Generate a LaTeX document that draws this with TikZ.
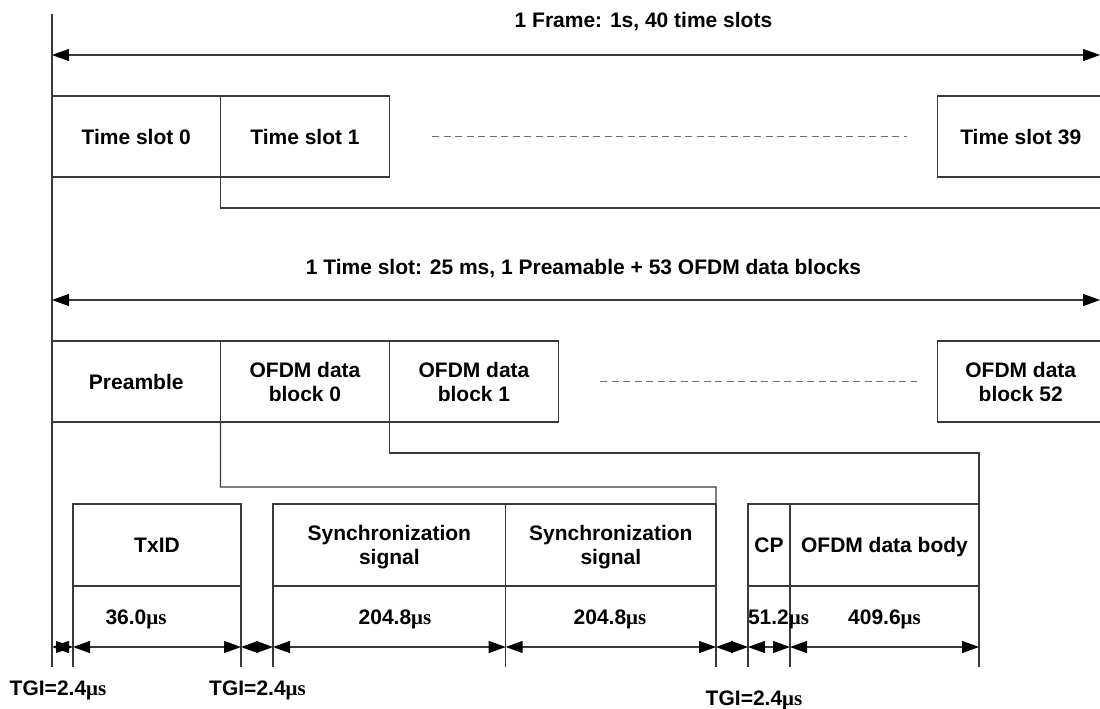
\documentclass[tikz,border=0pt]{standalone}
\usepackage{fontspec}
\setmainfont{Liberation Sans}
\newfontfamily\mufont{Liberation Serif}
\usetikzlibrary{arrows.meta}
\definecolor{linegray}{HTML}{3A3A3A}
\definecolor{dashgray}{HTML}{707070}
\newcommand\lbl{\fontsize{21}{24}\selectfont\bfseries}
\newcommand\musec{{\mufont\bfseries μs}}
\begin{document}
\begin{tikzpicture}[x=1pt,y=-1pt,
  ln/.style={draw=linegray, line width=1.1pt},
  box/.style={ln, rectangle, inner sep=0pt, outer sep=0pt, anchor=north west,
    align=center, text depth=0pt, font=\lbl},
  tip/.style={Triangle[length=17pt,width=12pt,color=black,fill=black]},
  dim/.style={ln, {Triangle[length=17pt,width=12pt,color=black,fill=black]}-{Triangle[length=17pt,width=12pt,color=black,fill=black]}},
  dots/.style={draw=dashgray, line width=1pt, dash pattern=on 7pt off 4.5pt},
  txt/.style={anchor=base, inner sep=0pt, outer sep=0pt, font=\lbl}]
\useasboundingbox (0,0) rectangle (1100,709);

% time axis on the left
\coordinate (axtop) at (52,14);
\coordinate (axbot) at (52,667);
\draw[ln] (axtop) -- (axbot);
\draw[ln, line width=1.6pt] (52,258) -- (52,300);

% frame
\node[txt] (frame) at (643.5,27.5) {1 Frame: 1s, 40 time slots};
\coordinate (fa) at (52,55);
\coordinate (fb) at (1100,55);
\draw[dim] (fa) -- (fb);

\node[box, minimum width=168.5pt, minimum height=81pt] (s0) at (52,96) {Time slot 0};
\node[box, minimum width=169pt, minimum height=81pt] (s1) at (220.5,96) {Time slot 1};
\node[box, minimum width=166.5pt, minimum height=81pt] (s39) at (937.5,96) {Time slot 39};
\coordinate (dA1) at (432,136);
\coordinate (dA2) at (907,136);
\draw[dots] (dA1) -- (dA2);
\coordinate (rA) at (1104,208);
\draw[ln] (s1.south west) |- (rA);

% one time slot
\node[txt] (slot) at (583.5,274) {1 Time slot: 25 ms, 1 Preamable + 53 OFDM data blocks};
\coordinate (ta) at (52,300);
\coordinate (tb) at (1100,300);
\draw[dim] (ta) -- (tb);

\node[box, minimum width=168.5pt, minimum height=81pt] (pre) at (52,341) {Preamble};
\node[box, minimum width=169pt, minimum height=81pt] (b0) at (220.5,341) {OFDM data\\block 0};
\node[box, minimum width=169pt, minimum height=81pt] (b1) at (389.5,341) {OFDM data\\block 1};
\node[box, minimum width=166.5pt, minimum height=81pt] (b52) at (937.5,341) {OFDM data\\block 52};
\coordinate (dB1) at (600,381);
\coordinate (dB2) at (917,381);
\draw[dots] (dB1) -- (dB2);

% preamble and data block contents
\node[box, minimum width=168pt, minimum height=82pt] (txid) at (73,504) {TxID};
\node[box, minimum width=232.7pt, minimum height=82pt] (sync1) at (273,504) {Synchronization\\signal};
\node[box, minimum width=210.3pt, minimum height=82pt] (sync2) at (505.7,504) {Synchronization\\signal};
\node[box, minimum width=42pt, minimum height=82pt] (cp) at (748,504) {CP};
\node[box, minimum width=189pt, minimum height=82pt] (body) at (790,504) {OFDM data body};

\coordinate (k0) at (716,487);
\coordinate (k1) at (979,453);
\draw[ln] (b0.south west) |- (k0) -- (sync2.north east);
\draw[ln] (b1.south west) |- (k1) -- (body.north east);

% extension lines
\foreach \a in {txid.south west, txid.south east, sync1.south west, sync2.south west,
                sync2.south east, cp.south west, body.south west, body.south east}
  \draw[ln] (\a) -- ++(0,81);

% durations
\node[txt] (l1) at (136,624.5) {36.0\musec};
\node[txt] (l2) at (395,624.5) {204.8\musec};
\node[txt] (l3) at (610,624.5) {204.8\musec};
\node[txt] (l4) at (778.5,624.5) {51.2\musec};
\node[txt] (l5) at (884.5,624.5) {409.6\musec};

\coordinate (g0) at (52,647);
\coordinate (g1) at (73,647);
\coordinate (g2) at (241,647);
\coordinate (g3) at (273,647);
\coordinate (g4) at (505.7,647);
\coordinate (g5) at (716,647);
\coordinate (g6) at (748,647);
\coordinate (g7) at (790,647);
\coordinate (g8) at (979,647);
\draw[dim] (g0) -- (g1);
\draw[dim] (g1) -- (g2);
\draw[dim] (g2) -- (g3);
\draw[dim] (g3) -- (g4);
\draw[dim] (g4) -- (g5);
\draw[dim] (g5) -- (g6);
\draw[dim] (g6) -- (g7);
\draw[dim] (g7) -- (g8);

% guard intervals
\node[txt] (tgi1) at (58,695.5) {TGI=2.4\musec};
\node[txt] (tgi2) at (257.5,695.5) {TGI=2.4\musec};
\node[txt] (tgi3) at (754,705.5) {TGI=2.4\musec};
\end{tikzpicture}
\end{document}
